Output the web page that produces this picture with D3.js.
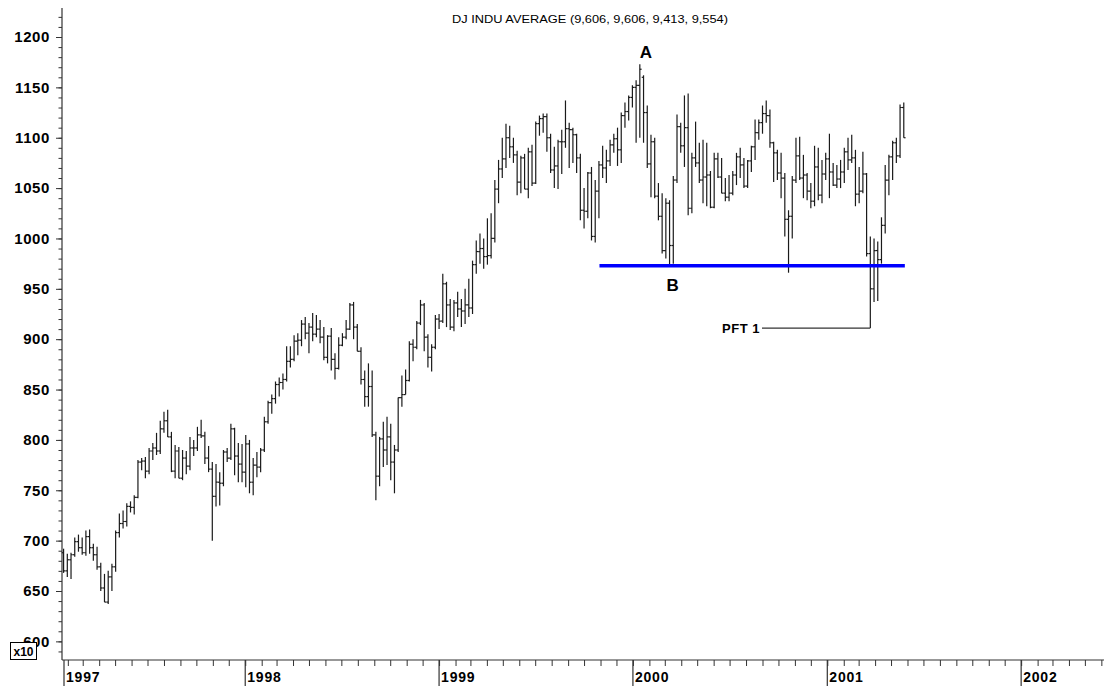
<!DOCTYPE html>
<html>
<head>
<meta charset="utf-8">
<script src="https://cdn.jsdelivr.net/npm/d3@7"></script>
<style>
  body { margin: 0; background: #fff; }
  svg { display: block; }
</style>
</head>
<body>
<div id="chart"></div>
<script>
// weekly bars, values are the index divided by 10
var title = "DJ INDU AVERAGE (9,606, 9,606, 9,413, 9,554)";
var firstWeek = new Date(1997, 0, 24);

var opens = [
  688,670,681,686,699,693,688,704,693,686, 674,653,639,664,674,708,717,719,734,733,
  743,778,779,769,789,792,789,811,819,803, 769,789,762,782,774,792,792,805,804,782,
  771,744,758,757,788,782,811,784,776,
  768,796,758,775,773,790,818,837,841,855, 857,860,878,880,898,899,915,906,912,905,
  910,902,882,903,880,871,894,902,910,934, 912,888,860,843,853,805,764,801,790,803,
  778,790,842,845,859,895,892,916,934,902, 882,892,920,
  918,955,934,912,936,930,928,934,931,974, 987,990,982,983,1000,1049,1069,1079,1100,1091,
  1083,1056,1080,1049,1086,1055,1114,1119,1121,1100, 1068,1072,1096,1096,1109,1108,1103,1080,1028,1027,
  1065,1002,1047,1073,1070,1077,1093,1099,1088,1122, 1126,1140,
  1150,1152,1160,1125,1074,1096,1042,1022,988,1035, 993,1058,1111,1092,1110,1030,1080,1075,1058,1061,
  1063,1031,1079,1061,1045,1041,1045,1063,1081,1073, 1052,1077,1091,1105,1115,1124,1122,1095,1085,1065,
  1060,1019,1022,1058,1082,1060,1063,1047,1037,1071, 1043,1064,
  1079,1066,1053,1059,1066,1086,1078,1080,1044,1047, 1064,985,950,988,979,1013,1058,1081,1095,1082,
  1130
];
var highs = [
  692,687,688,703,706,703,710,711,697,694, 678,667,670,677,710,727,730,737,739,745,
  780,782,783,792,797,807,819,828,830,808, 795,793,790,789,803,800,813,820,808,794,
  778,776,768,790,792,816,812,797,796,
  805,800,782,788,792,823,839,845,858,862, 866,893,893,904,906,919,922,916,926,924,
  919,912,904,911,886,902,906,919,936,937, 915,892,869,876,869,808,803,818,823,816,
  795,842,864,870,898,900,918,939,936,905, 895,924,925,
  965,957,940,939,947,940,950,960,978,998, 1005,1000,1020,1025,1058,1078,1100,1114,1112,1100,
  1087,1082,1084,1090,1093,1116,1122,1124,1124,1104, 1091,1098,1108,1137,1115,1110,1104,1084,1050,1066,
  1071,1058,1077,1092,1088,1098,1104,1110,1125,1135, 1142,1152,
  1157,1173,1162,1132,1103,1100,1055,1045,1040,1038, 1062,1123,1115,1142,1144,1085,1116,1095,1098,1095,
  1067,1085,1085,1080,1060,1063,1067,1085,1090,1080, 1078,1092,1118,1118,1132,1137,1128,1096,1088,1085,
  1065,1028,1062,1100,1101,1083,1065,1055,1092,1090, 1078,1085,
  1104,1075,1073,1078,1090,1100,1103,1088,1071,1086, 1065,1002,1000,997,1021,1073,1083,1097,1100,1133,
  1135
];
var lows = [
  668,664,662,684,689,686,685,687,680,671, 650,639,637,650,669,703,712,714,728,726,
  742,770,762,766,780,785,786,807,803,768, 762,762,760,766,770,784,789,802,776,768,
  700,734,735,754,778,780,765,758,758,
  753,747,745,763,768,788,816,826,836,843, 850,858,872,878,884,893,900,886,898,902,
  896,879,876,869,860,870,893,900,909,900, 888,855,833,833,803,740,754,773,775,760,
  747,788,833,845,858,878,890,914,888,872, 868,890,910,
  916,912,909,908,922,912,915,922,925,965, 975,970,974,980,996,1035,1060,1070,1080,1075,
  1043,1045,1049,1040,1052,1054,1102,1105,1086,1065, 1050,1049,1064,1090,1070,1075,1065,1018,1010,1020,
  998,996,1020,1060,1055,1072,1085,1072,1075,1110, 1117,1130,
  1095,1100,1095,1070,1041,1040,1018,985,980,973, 975,1055,1085,1071,1023,1025,1071,1055,1035,1032,
  1030,1030,1060,1045,1037,1037,1043,1053,1060,1050, 1050,1066,1078,1098,1104,1115,1090,1056,1058,1040,
  1002,966,1000,1055,1058,1040,1038,1030,1032,1038, 1035,1058,
  1040,1052,1050,1050,1055,1068,1075,1032,1035,1045, 982,911,937,938,975,1005,1043,1058,1075,1080,
  1100
];
var closes = [
  670,681,686,699,693,688,704,693,686,674, 653,639,664,674,708,717,719,734,733,743,
  778,779,769,789,792,789,811,819,803,769, 789,762,782,774,792,792,805,804,782,771,
  744,758,757,788,782,811,784,776,768,
  796,758,775,773,790,818,837,841,855,857, 860,878,880,898,899,915,906,912,905,910,
  902,882,903,880,871,894,902,910,934,912, 888,860,843,853,805,764,801,790,803,778,
  790,842,845,859,895,892,916,934,902,882, 892,920,918,
  955,934,912,936,930,928,934,931,974,987, 990,982,983,1000,1049,1069,1079,1100,1091,1083,
  1056,1080,1049,1086,1055,1114,1119,1121,1100,1068, 1072,1096,1096,1109,1108,1103,1080,1028,1027,1065,
  1002,1047,1073,1070,1077,1093,1099,1088,1122,1126, 1140,1150,
  1152,1168,1125,1074,1096,1042,1022,988,1035,993, 1058,1111,1092,1110,1030,1080,1075,1058,1061,1063,
  1031,1079,1061,1045,1041,1045,1063,1081,1073,1052, 1077,1091,1105,1115,1124,1122,1095,1085,1065,1060,
  1019,1022,1058,1082,1060,1063,1047,1037,1071,1043, 1064,1079,
  1066,1053,1059,1066,1086,1078,1080,1044,1047,1064, 985,950,988,979,1013,1058,1081,1095,1082,1130,
  1100
];

// axis labels
var yTicks = [600,650,700,750,800,850,900,950,1000,1050,1100,1150,1200];
var years = [1997,1998,1999,2000,2001,2002];

// annotations
var pointLabels = ["A", "B"];
var pointDates = [new Date(2000, 0, 14), new Date(2000, 2, 10)];
var pointValues = [1173, 973];
var supportLevel = 973;
var supportFrom = new Date(1999, 9, 30), supportTo = new Date(2001, 4, 27);
var pftText = "PFT 1";
var pftDate = new Date(2001, 2, 23), pftValue = 911;

var bars = opens.map(function(o, i) {
  return {date: d3.timeDay.offset(firstWeek, 7 * i), o: o, h: highs[i], l: lows[i], c: closes[i]};
});

var width = 1104, height = 688;
var font = "Arial, 'Liberation Sans', sans-serif";

var svg = d3.select('#chart').append('svg')
  .attr('width', width)
  .attr('height', height)
  .style('background', '#fff');

var x = d3.scaleTime()
  .domain([new Date(1997, 0, 21), new Date(2002, 5, 6)])
  .range([62, 1104]);
var y = d3.scaleLinear().domain([581.5, 1228.8]).range([660, 8]);

// title
svg.append('text')
  .attr('x', 452).attr('y', 23)
  .attr('textLength', 276).attr('lengthAdjust', 'spacingAndGlyphs')
  .style('font-family', font).style('font-size', '11px')
  .text(title);

// y axis: minor ticks every 10, labelled ticks every 50
svg.append('g')
  .attr('transform', 'translate(62,0)')
  .call(d3.axisLeft(y).tickValues(d3.range(590, 1229, 10)).tickSize(3.5).tickFormat(''))
  .call(function(g) {
    g.select('.domain').remove();
    g.selectAll('line').attr('stroke', '#333');
  });

var yAxis = svg.append('g')
  .attr('transform', 'translate(62,0)')
  .call(d3.axisLeft(y).tickValues(yTicks).tickSize(6).tickPadding(6).tickFormat(d3.format('d')));
yAxis.select('.domain').remove();
yAxis.selectAll('line').attr('stroke', '#333');
yAxis.selectAll('text')
  .style('font-family', font).style('font-size', '15px').style('font-weight', 'bold')
  .style('letter-spacing', '0.6px')
  .attr('fill', '#000');

svg.append('line')
  .attr('x1', 62).attr('x2', 62).attr('y1', 8).attr('y2', 660)
  .attr('stroke', '#333').attr('stroke-width', 1.2);

// x axis: month ticks and year lines
var xAxis = svg.append('g')
  .attr('transform', 'translate(0,660)')
  .call(d3.axisBottom(x).ticks(d3.timeMonth.every(1)).tickSize(6).tickFormat(''));
xAxis.select('.domain').remove();
xAxis.selectAll('line').attr('stroke', '#333');

svg.append('line')
  .attr('x1', 62).attr('x2', 1104).attr('y1', 660).attr('y2', 660)
  .attr('stroke', '#333').attr('stroke-width', 1.2);

var yearG = svg.append('g').selectAll('g')
  .data(years)
  .join('g')
  .attr('transform', function(d) {
    return 'translate(' + Math.max(x(new Date(d, 0, 1)), 64) + ',0)';
  });
yearG.append('line')
  .attr('y1', 660).attr('y2', 686)
  .attr('stroke', '#333').attr('stroke-width', 1.2);
yearG.append('text')
  .attr('x', 2).attr('y', 682)
  .style('font-family', font).style('font-size', '14px').style('font-weight', 'bold')
  .style('letter-spacing', '0.8px')
  .text(function(d) { return d; });

// x10 box over the 600 label
svg.append('rect')
  .attr('x', 10.5).attr('y', 642.5).attr('width', 26).attr('height', 17)
  .attr('fill', '#fff').attr('stroke', '#000');
svg.append('text')
  .attr('x', 23.5).attr('y', 655.5).attr('text-anchor', 'middle')
  .style('font-family', font).style('font-size', '12px').style('font-weight', 'bold')
  .text('x10');

// ohlc bars
var barG = svg.append('g').attr('stroke', '#1a1a1a').attr('stroke-width', 1.2);
barG.selectAll('line.hl')
  .data(bars)
  .join('line')
  .attr('class', 'hl')
  .attr('x1', function(d) { return x(d.date); })
  .attr('x2', function(d) { return x(d.date); })
  .attr('y1', function(d) { return y(d.h); })
  .attr('y2', function(d) { return y(d.l); });
barG.selectAll('line.op')
  .data(bars)
  .join('line')
  .attr('class', 'op')
  .attr('x1', function(d) { return x(d.date) - 1.8; })
  .attr('x2', function(d) { return x(d.date); })
  .attr('y1', function(d) { return y(d.o); })
  .attr('y2', function(d) { return y(d.o); });
barG.selectAll('line.cl')
  .data(bars)
  .join('line')
  .attr('class', 'cl')
  .attr('x1', function(d) { return x(d.date); })
  .attr('x2', function(d) { return x(d.date) + 1.8; })
  .attr('y1', function(d) { return y(d.c); })
  .attr('y2', function(d) { return y(d.c); });

// support line
svg.append('line')
  .attr('x1', x(supportFrom)).attr('x2', x(supportTo))
  .attr('y1', y(supportLevel)).attr('y2', y(supportLevel))
  .attr('stroke', '#0000ff').attr('stroke-width', 3.5);

// A and B labels
svg.selectAll('text.pt')
  .data(pointLabels)
  .join('text')
  .attr('class', 'pt')
  .attr('x', function(d, i) { return x(pointDates[i]) + (i === 0 ? 6 : 3); })
  .attr('y', function(d, i) { return i === 0 ? y(pointValues[i]) - 6 : y(pointValues[i]) + 25; })
  .attr('text-anchor', 'middle')
  .style('font-family', font).style('font-size', '17px').style('font-weight', 'bold')
  .text(function(d) { return d; });

// pft pointer
svg.append('line')
  .attr('x1', 762).attr('x2', x(pftDate))
  .attr('y1', y(pftValue)).attr('y2', y(pftValue))
  .attr('stroke', '#333').attr('stroke-width', 1.2);
svg.append('text')
  .attr('x', 760).attr('y', y(pftValue) + 5).attr('text-anchor', 'end')
  .style('font-family', font).style('font-size', '13px').style('font-weight', 'bold')
  .style('letter-spacing', '0.5px')
  .text(pftText);
</script>
</body>
</html>
